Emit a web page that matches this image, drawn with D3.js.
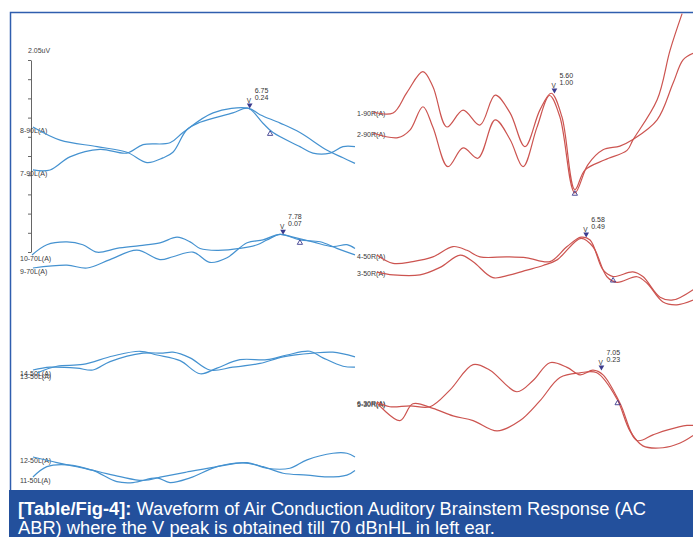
<!DOCTYPE html>
<html>
<head>
<meta charset="utf-8">
<script src="https://cdn.jsdelivr.net/npm/d3@7"></script>
<style>
  body { margin: 0; background: #fff; }
  svg { display: block; }
</style>
</head>
<body>
<div id="chart"></div>
<script>
// latency (ms) and amplitude (uV, relative to trace start)
const ms_8_90L = [0.06, 0.90, 2.04, 2.96, 3.58, 4.07, 4.38, 4.81, 5.22, 6.23, 6.70, 7.16, 7.47, 8.30, 8.70, 9.23, 9.63, 10.0]
const uv_8_90L = [0, -0.14, -0.21, -0.27, -0.38, -0.33, -0.27, -0.03, 0.05, 0.15, 0.20, 0.04, -0.06, -0.21, -0.28, -0.28, -0.21, -0.21]
const ms_7_90L = [0.06, 0.59, 1.20, 2.13, 2.96, 3.46, 4.29, 4.69, 5.62, 6.70, 7.07, 7.69, 8.30, 9.14, 9.63, 10.0]
const uv_7_90L = [0, 0, 0.14, 0.22, 0.18, 0.27, 0.29, 0.40, 0.61, 0.66, 0.59, 0.50, 0.40, 0.21, 0.13, 0.07]
const ms_10_70L = [0.03, 0.49, 1.11, 1.60, 2.04, 2.65, 3.36, 3.98, 4.51, 4.91, 5.22, 5.74, 6.45, 6.98, 7.28, 7.69, 8.09, 8.70, 9.32, 9.75, 10.0]
const uv_10_70L = [0, 0.11, 0.14, 0.11, 0.03, 0.07, 0.10, 0.13, 0.19, 0.14, 0.07, 0.05, 0.07, 0.11, 0.16, 0.22, 0.19, 0.14, 0.09, 0.11, 0.07]
const ms_9_70L = [0.06, 1.11, 1.73, 2.44, 3.27, 3.98, 4.38, 5.00, 5.52, 6.05, 6.67, 7.16, 7.69, 8.30, 8.92, 9.44, 10.0]
const uv_9_70L = [0, 0.03, 0, 0.09, 0.19, 0.09, 0.12, 0.17, 0.06, 0.11, 0.27, 0.30, 0.36, 0.30, 0.28, 0.21, 0.14]
const ms_14_50L = [0.06, 0.59, 1.42, 1.91, 2.44, 3.46, 4.07, 4.38, 4.91, 5.52, 6.23, 7.07, 7.78, 8.70, 9.32, 10.0]
const uv_14_50L = [0, 0.03, 0.02, 0, 0.09, 0.18, 0.18, 0.19, 0.13, 0, 0.03, 0.07, 0.14, 0.18, 0.19, 0.14]
const ms_13_50L = [0.19, 0.80, 1.60, 2.53, 3.36, 3.89, 4.60, 5.22, 5.74, 6.45, 7.28, 7.90, 8.61, 9.01, 9.63, 10.0]
const uv_13_50L = [0, 0.07, 0.09, 0.18, 0.23, 0.19, 0.13, -0.01, 0.05, 0.14, 0.14, 0.19, 0.23, 0.16, 0.07, 0.06]
const ms_12_50L = [0.06, 0.80, 1.51, 2.13, 2.75, 3.46, 4.07, 4.81, 5.62, 6.67, 7.28, 7.99, 8.52, 9.32, 9.75, 10.0]
const uv_12_50L = [0, -0.06, -0.11, -0.16, -0.21, -0.25, -0.21, -0.16, -0.11, -0.06, -0.12, -0.12, -0.03, 0.04, 0.04, 0]
const ms_11_50L = [0.06, 0.49, 1.11, 1.91, 2.65, 3.15, 3.89, 4.29, 4.91, 5.74, 6.54, 7.16, 7.78, 8.52, 9.14, 9.75, 10.0]
const uv_11_50L = [0, 0.11, 0.13, 0.07, -0.05, -0.06, -0.01, -0.06, -0.01, 0.11, 0.15, 0.11, 0.04, 0.02, 0, 0.02, 0.07]

const ms_1_90R = [0, 0.62, 1.05, 1.54, 1.85, 2.28, 2.78, 3.30, 3.77, 4.23, 4.69, 5.15, 5.50, 5.83, 6.23, 6.54, 7.16, 7.84, 8.02, 8.77, 9.17, 9.54]
const uv_1_90R = [0, -0.01, 0.21, 0.43, 0.27, -0.16, 0.02, -0.14, 0.18, -0.01, -0.37, 0.02, 0.20, -0.05, -0.83, -0.62, -0.51, -0.41, -0.30, 0.13, 0.66, 1.05]
const ms_2_90R = [0, 0.77, 1.14, 1.54, 1.85, 2.31, 2.78, 3.24, 3.77, 4.23, 4.63, 5.06, 5.45, 5.77, 6.23, 6.63, 7.10, 7.62, 8.02, 8.77, 9.26, 9.57, 9.88]
const uv_2_90R = [0, -0.05, 0.03, 0.28, 0.06, -0.36, -0.16, -0.27, 0.14, -0.07, -0.36, 0.06, 0.40, 0.17, -0.64, -0.34, -0.18, -0.14, -0.07, 0.14, 0.53, 0.78, 0.85]
const ms_4_50R = [0.12, 0.62, 1.23, 1.85, 2.47, 2.90, 3.30, 4.14, 4.75, 5.46, 5.99, 6.42, 6.70, 7.10, 7.41, 8.02, 8.33, 8.86, 9.26, 9.88]
const uv_4_50R = [0, -0.09, -0.07, -0.02, 0.09, 0.05, -0.02, -0.02, -0.03, -0.07, 0.09, 0.19, 0.16, -0.16, -0.23, -0.18, -0.23, -0.45, -0.48, -0.37]
const ms_3_50R = [0.12, 0.62, 1.45, 2.07, 2.69, 3.09, 3.70, 4.23, 4.75, 5.25, 5.68, 6.42, 6.79, 7.22, 7.53, 8.15, 8.46, 8.95, 9.38, 9.88]
const uv_3_50R = [0, -0.03, -0.03, 0.05, 0.18, 0.11, -0.06, -0.03, 0.02, 0.07, 0.13, 0.36, 0.27, -0.05, -0.11, -0.05, -0.12, -0.32, -0.35, -0.30]
const ms_6_30R = [0.12, 0.52, 1.14, 1.76, 2.38, 3.09, 3.61, 4.44, 4.94, 5.46, 5.99, 6.39, 6.79, 7.10, 7.62, 8.15, 8.64, 9.07, 9.69, 9.88]
const uv_6_30R = [0, -0.05, -0.04, -0.05, 0.13, 0.40, 0.34, 0.11, 0.23, 0.42, 0.37, 0.29, 0.34, 0.29, -0.01, -0.41, -0.35, -0.30, -0.25, -0.25]
const ms_5_30R = [0.12, 0.83, 1.23, 1.85, 2.47, 3.09, 3.83, 4.54, 5.15, 5.77, 6.39, 6.91, 7.53, 7.93, 8.33, 8.95, 9.48, 9.88]
const uv_5_30R = [0, -0.19, -0.01, -0.06, -0.14, -0.19, -0.30, -0.19, 0.02, 0.27, 0.32, 0.32, 0.04, -0.30, -0.46, -0.48, -0.43, -0.35]

// V peak marks
const peakTrace = ['8-90L', '10-70L', '1-90R', '4-50R', '6-30R']
const peakLatency = [6.75, 7.78, 5.60, 6.58, 7.05]
const peakAmplitude = ['0.24', '0.07', '1.00', '0.49', '0.23']
// trough marks after V
const troughTrace = ['8-90L', '10-70L', '1-90R', '4-50R', '6-30R']
const troughLatency = [7.38, 8.30, 6.23, 7.41, 7.55]

const scaleLabel = '2.05uV'
const caption = ['[Table/Fig-4]:', ' Waveform of Air Conduction Auditory Brainstem Response (AC', 'ABR) where the V peak is obtained till 70 dBnHL in left ear.']

// trace -> side and vertical track offset (uV on the scale axis)
const traces = [
  { id: '8-90L', side: 'L', offset: 1.335, ms: ms_8_90L, uv: uv_8_90L },
  { id: '7-90L', side: 'L', offset: 0.876, ms: ms_7_90L, uv: uv_7_90L },
  { id: '10-70L', side: 'L', offset: -0.032, ms: ms_10_70L, uv: uv_10_70L },
  { id: '9-70L', side: 'L', offset: -0.171, ms: ms_9_70L, uv: uv_9_70L },
  { id: '14-50L', side: 'L', offset: -1.26, ms: ms_14_50L, uv: uv_14_50L },
  { id: '13-50L', side: 'L', offset: -1.29, ms: ms_13_50L, uv: uv_13_50L },
  { id: '12-50L', side: 'L', offset: -2.189, ms: ms_12_50L, uv: uv_12_50L },
  { id: '11-50L', side: 'L', offset: -2.402, ms: ms_11_50L, uv: uv_11_50L },
  { id: '1-90R', side: 'R', offset: 1.495, ms: ms_1_90R, uv: uv_1_90R },
  { id: '2-90R', side: 'R', offset: 1.271, ms: ms_2_90R, uv: uv_2_90R },
  { id: '4-50R', side: 'R', offset: -0.032, ms: ms_4_50R, uv: uv_4_50R },
  { id: '3-50R', side: 'R', offset: -0.214, ms: ms_3_50R, uv: uv_3_50R },
  { id: '6-30R', side: 'R', offset: -1.602, ms: ms_6_30R, uv: uv_6_30R },
  { id: '5-30R', side: 'R', offset: -1.61, ms: ms_5_30R, uv: uv_5_30R }
]

const width = 693, height = 537
const font = '"Liberation Sans", Arial, sans-serif'
const svg = d3.select('#chart').append('svg')
  .attr('width', width).attr('height', height)

const x = {
  L: d3.scaleLinear().domain([0, 10]).range([31, 355]),
  R: d3.scaleLinear().domain([0, 10]).range([373, 697])
}
const y = d3.scaleLinear().domain([0, 2.05]).range([252, 60])
const colors = { L: '#4592d0', R: '#cc5450' }

// frame
svg.append('path')
  .attr('d', `M10.5,${height}V12.5H${width}`)
  .attr('fill', 'none').attr('stroke', '#2f5eae').attr('stroke-width', 1.5)

// uV scale bar
svg.append('g')
  .attr('transform', `translate(${x.L(0)},0)`)
  .call(d3.axisLeft(y).tickValues(d3.range(0, 2.06, 0.205)).tickSize(3).tickSizeOuter(0).tickFormat(''))
  .call(g => g.selectAll('line,path').attr('stroke', '#666'))
svg.append('text')
  .attr('x', x.L(0) - 3).attr('y', y(2.05) - 7)
  .attr('font-family', font).attr('font-size', 7).attr('fill', '#444')
  .text(scaleLabel)

const byId = new Map(traces.map(t => [t.id, t]))
const pts = t => t.ms.map((m, i) => [m, t.uv[i]])

// track labels (the paired 50L / 30R labels overprint each other, as in the recording)
svg.append('g').selectAll('text')
  .data(traces)
  .join('text')
  .attr('x', t => t.side === 'L' ? 20 : 357)
  .attr('y', t => y(t.offset) + (t.side === 'L' ? 6 : 4))
  .attr('font-family', font).attr('font-size', 7).attr('fill', '#3a3a3a')
  .text(t => t.id + '(A)')

// waveforms
const line = t => d3.line()
  .x(d => x[t.side](d[0]))
  .y(d => y(t.offset + d[1]))
  .curve(d3.curveCatmullRom.alpha(0.5))(pts(t))

svg.append('g').selectAll('path')
  .data(traces)
  .join('path')
  .attr('d', line)
  .attr('fill', 'none')
  .attr('stroke', t => colors[t.side])
  .attr('stroke-width', 1.2)
  .attr('stroke-linejoin', 'round')

function valueAt(t, m) {
  const i = Math.max(1, Math.min(t.ms.length - 1, d3.bisectLeft(t.ms, m)))
  const a = t.ms[i - 1], b = t.ms[i]
  return t.uv[i - 1] + (t.uv[i] - t.uv[i - 1]) * (m - a) / (b - a)
}
function peakAt(t, m) {
  const near = t.ms.map((v, i) => [v, t.uv[i]]).filter(d => Math.abs(d[0] - m) < 0.3).map(d => d[1])
  return Math.max(valueAt(t, m), ...near)
}

const marks = svg.append('g')
peakTrace.forEach((id, i) => {
  const t = byId.get(id)
  const px = x[t.side](peakLatency[i])
  const py = y(t.offset + peakAt(t, peakLatency[i]))
  marks.append('path')
    .attr('d', d3.symbol(d3.symbolTriangle, 14)())
    .attr('transform', `translate(${px},${py - 3}) rotate(180)`)
    .attr('fill', '#3c3c8e')
  marks.append('text')
    .attr('x', px - 3).attr('y', py - 5)
    .attr('font-family', font).attr('font-size', 6.5).attr('fill', '#333')
    .text('V')
  marks.append('text')
    .attr('x', px + 5).attr('y', py - 15)
    .attr('font-family', font).attr('font-size', 7).attr('fill', '#333')
    .text(peakLatency[i].toFixed(2))
  marks.append('text')
    .attr('x', px + 5).attr('y', py - 8.5)
    .attr('font-family', font).attr('font-size', 7).attr('fill', '#333')
    .text(peakAmplitude[i])
})
troughTrace.forEach((id, i) => {
  const t = byId.get(id)
  const px = x[t.side](troughLatency[i])
  const py = y(t.offset + valueAt(t, troughLatency[i]))
  marks.append('path')
    .attr('d', d3.symbol(d3.symbolTriangle, 12)())
    .attr('transform', `translate(${px},${py + 4})`)
    .attr('fill', 'none').attr('stroke', '#3c3c8e').attr('stroke-width', 0.9)
})

// caption
svg.append('rect')
  .attr('x', 9).attr('y', 490).attr('width', width - 9).attr('height', height - 490)
  .attr('fill', '#23509c')
const cap = svg.append('g').attr('font-family', font).attr('font-size', 18.3).attr('fill', '#fff')
const l1 = cap.append('text').attr('x', 18).attr('y', 515)
l1.append('tspan').attr('font-weight', 'bold').text(caption[0])
l1.append('tspan').text(caption[1])
cap.append('text').attr('x', 18).attr('y', 534).text(caption[2])
</script>
</body>
</html>
